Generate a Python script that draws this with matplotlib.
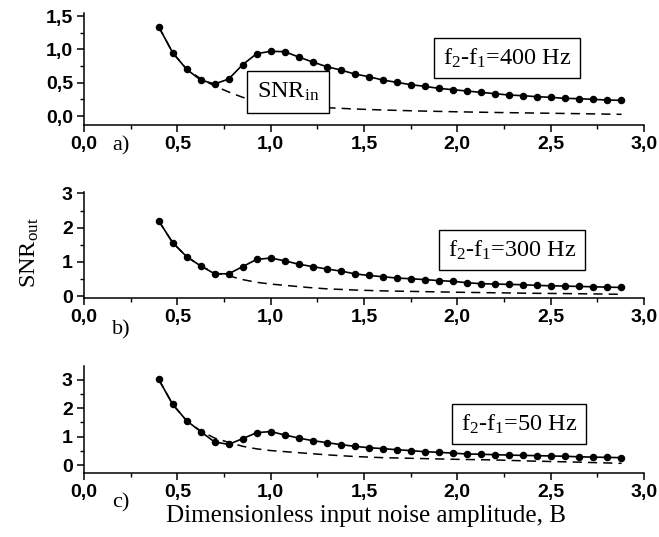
import matplotlib
matplotlib.use("Agg")
import matplotlib.pyplot as plt
from matplotlib.ticker import MultipleLocator, FixedLocator, FixedFormatter

plt.rcParams['mathtext.fontset'] = 'custom'
plt.rcParams['mathtext.rm'] = 'Liberation Serif'
plt.rcParams['mathtext.it'] = 'Liberation Serif:italic'

# ---------------- data ----------------
B = [0.4, 0.475, 0.55, 0.625, 0.7, 0.775, 0.85, 0.925, 1.0, 1.075, 1.15, 1.225, 1.3,
     1.375, 1.45, 1.525, 1.6, 1.675, 1.75, 1.825, 1.9, 1.975, 2.05, 2.125, 2.2,
     2.275, 2.35, 2.425, 2.5, 2.575, 2.65, 2.725, 2.8, 2.875]

snr_out_400 = [1.34, 0.95, 0.70, 0.54, 0.48, 0.555, 0.77, 0.935, 0.97, 0.965, 0.885, 0.81, 0.74,
               0.69, 0.63, 0.59, 0.54, 0.505, 0.47, 0.445, 0.415, 0.395, 0.375, 0.355, 0.335,
               0.315, 0.305, 0.29, 0.28, 0.265, 0.26, 0.25, 0.24, 0.235]
snr_out_300 = [2.20, 1.56, 1.15, 0.88, 0.65, 0.65, 0.86, 1.07, 1.11, 1.03, 0.93, 0.86, 0.79,
               0.73, 0.65, 0.60, 0.565, 0.525, 0.505, 0.48, 0.45, 0.43, 0.39, 0.36, 0.35,
               0.34, 0.33, 0.31, 0.30, 0.29, 0.28, 0.27, 0.26, 0.25]
snr_out_50 = [3.02, 2.14, 1.56, 1.18, 0.81, 0.73, 0.93, 1.14, 1.18, 1.06, 0.95, 0.86, 0.79,
              0.72, 0.66, 0.61, 0.58, 0.54, 0.51, 0.47, 0.45, 0.42, 0.39, 0.38, 0.365,
              0.35, 0.34, 0.33, 0.32, 0.31, 0.29, 0.28, 0.27, 0.26]

B_in = [0.4, 0.475, 0.55, 0.625, 0.7, 0.775, 0.85, 0.925, 1.0, 1.1, 1.2, 1.3,
        1.45, 1.6, 1.8, 2.0, 2.2, 2.4, 2.6, 2.88]
snr_in_400 = [1.34, 0.95, 0.70, 0.56, 0.45, 0.36, 0.28, 0.23, 0.20, 0.17, 0.145, 0.125,
              0.105, 0.09, 0.075, 0.063, 0.053, 0.045, 0.037, 0.025]
snr_in_300 = [2.20, 1.56, 1.15, 0.88, 0.68, 0.59, 0.48, 0.40, 0.35, 0.30, 0.25, 0.21,
              0.175, 0.15, 0.13, 0.11, 0.095, 0.08, 0.07, 0.05]
snr_in_50 = [3.02, 2.14, 1.56, 1.20, 0.95, 0.80, 0.66, 0.57, 0.51, 0.46, 0.41, 0.36,
             0.30, 0.26, 0.23, 0.20, 0.18, 0.14, 0.11, 0.06]

x_ticks = [0.0, 0.5, 1.0, 1.5, 2.0, 2.5, 3.0]
x_tick_labels = ["0,0", "0,5", "1,0", "1,5", "2,0", "2,5", "3,0"]
ya_ticks = [0.0, 0.5, 1.0, 1.5]
ya_tick_labels = ["0,0", "0,5", "1,0", "1,5"]
ybc_ticks = [0, 1, 2, 3]
ybc_tick_labels = ["0", "1", "2", "3"]

panel_letters = ["a)", "b)", "c)"]
box_labels = [r"f$_2$-f$_1$=400 Hz", r"f$_2$-f$_1$=300 Hz", r"f$_2$-f$_1$=50 Hz"]
snr_in_label = r"SNR$_{\rm in}$"
y_label = r"SNR$_{\rm out}$"
x_label = "Dimensionless input noise amplitude, B"

# ---------------- layout ----------------
W, H = 659, 537
fig = plt.figure(figsize=(W / 100, H / 100), dpi=100)

def frac_rect(left, top, right, bottom):
    return [left / W, 1 - bottom / H, (right - left) / W, (bottom - top) / H]

def fx(px):
    return px / W

def fy(py):
    return 1 - py / H

rects = [frac_rect(84, 13, 644, 125), frac_rect(84, 191.7, 644, 298.3), frac_rect(84, 366, 644, 472.7)]
ylims = [(-0.135, 1.545), (-0.067, 3.05), (-0.27, 3.49)]
outs = [snr_out_400, snr_out_300, snr_out_50]
ins = [snr_in_400, snr_in_300, snr_in_50]
ytk = [(ya_ticks, ya_tick_labels, 0.25), (ybc_ticks, ybc_tick_labels, 0.5), (ybc_ticks, ybc_tick_labels, 0.5)]
letter_pos = [(121, 146), (121, 330), (121, 503)]
box_pos = [(507, 58), (512, 250), (519, 424)]

serif = "Liberation Serif"

for i in range(3):
    ax = fig.add_axes(rects[i])
    ax.plot(B_in, ins[i], color="black", lw=1.1, ls=(0, (6, 4)))
    ax.plot(B, outs[i], color="black", lw=1.2, marker="o", ms=4.4)
    ax.set_xlim(0, 3.0)
    ax.set_ylim(*ylims[i])
    for s in ["top", "right"]:
        ax.spines[s].set_visible(False)
    for s in ["left", "bottom"]:
        ax.spines[s].set_linewidth(1.1)
    ax.xaxis.set_major_locator(FixedLocator(x_ticks))
    ax.xaxis.set_major_formatter(FixedFormatter(x_tick_labels))
    ax.xaxis.set_minor_locator(MultipleLocator(0.25))
    ax.yaxis.set_major_locator(FixedLocator(ytk[i][0]))
    ax.yaxis.set_major_formatter(FixedFormatter(ytk[i][1]))
    ax.yaxis.set_minor_locator(MultipleLocator(ytk[i][2]))
    ax.tick_params(which="major", direction="out", length=5, width=1.1, pad=3)
    ax.tick_params(which="minor", direction="out", length=3, width=1.0)
    for lab in ax.get_xticklabels() + ax.get_yticklabels():
        lab.set_fontfamily("Liberation Sans")
        lab.set_fontweight("bold")
        lab.set_fontsize(14)
    fig.text(fx(letter_pos[i][0]), fy(letter_pos[i][1]), panel_letters[i], family=serif,
             fontsize=16, ha="center", va="center")
    fig.text(fx(box_pos[i][0]), fy(box_pos[i][1]), box_labels[i], family=serif,
             fontsize=17.5, ha="center", va="center",
             bbox=dict(boxstyle="square,pad=0.35", fc="white", ec="black", lw=1.0))

fig.text(fx(288), fy(92), snr_in_label, family=serif, fontsize=17.5, ha="center", va="center",
         bbox=dict(boxstyle="square,pad=0.4", fc="white", ec="black", lw=1.0))
fig.text(fx(30), fy(253), y_label, family=serif, fontsize=17.5, ha="center", va="center",
         rotation=90)
fig.text(fx(366), fy(516), x_label, family=serif, fontsize=18, ha="center", va="center")

fig.savefig("out.png", dpi=100)
